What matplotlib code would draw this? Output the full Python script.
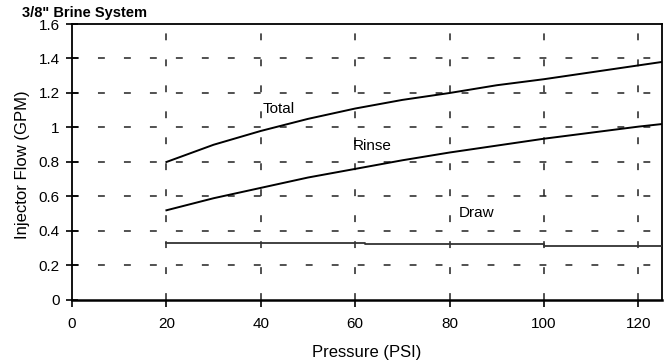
import matplotlib
matplotlib.use("Agg")
import matplotlib.pyplot as plt

plt.rcParams['font.family'] = ['Liberation Sans', 'DejaVu Sans']

# values
pressure = [20, 30, 40, 50, 60, 70, 80, 90, 100, 110, 120, 125]
total = [0.80, 0.90, 0.98, 1.05, 1.11, 1.16, 1.20, 1.245, 1.28, 1.32, 1.36, 1.38]
rinse = [0.52, 0.59, 0.65, 0.71, 0.76, 0.81, 0.855, 0.895, 0.935, 0.97, 1.005, 1.02]
draw_p = [20, 62, 100, 125]
draw = [0.33, 0.322, 0.315, 0.315]

x_ticks = [0, 20, 40, 60, 80, 100, 120]
y_ticks = [0, 0.2, 0.4, 0.6, 0.8, 1, 1.2, 1.4, 1.6]
y_labels = ['0', '0.2', '0.4', '0.6', '0.8', '1', '1.2', '1.4', '1.6']

fig = plt.figure(figsize=(6.7, 3.62), dpi=100)
ax = fig.add_axes([0.1075, 0.1713, 0.8805, 0.7624])

grid_style = dict(color='#222222', lw=1.1, ls=(0, (4.5, 12.5)), zorder=1)
for yv in y_ticks[1:-1]:
    ax.axhline(yv, **grid_style)
for xv in x_ticks[1:]:
    ax.axvline(xv, **grid_style)

ax.plot(pressure, total, color='black', lw=1.4, zorder=3)
ax.plot(pressure, rinse, color='black', lw=1.4, zorder=3)
ax.plot(draw_p, draw, color='#333333', lw=1.3, drawstyle='steps-post', zorder=3)

ax.text(40.3, 1.105, 'Total', fontsize=11, va='center', ha='left')
ax.text(59.5, 0.895, 'Rinse', fontsize=11, va='center', ha='left')
ax.text(82, 0.505, 'Draw', fontsize=11, va='center', ha='left')

ax.set_xlim(0, 125)
ax.set_ylim(0, 1.6)
ax.set_xticks(x_ticks)
ax.set_yticks(y_ticks)
ax.set_yticklabels(y_labels)
ax.tick_params(axis='y', direction='inout', length=8, width=1.2, labelsize=11, pad=5)
ax.tick_params(axis='x', direction='out', length=5, width=1.2, labelsize=11, pad=7)
for side in ['left', 'right', 'top']:
    ax.spines[side].set_linewidth(1.3)
ax.spines['bottom'].set_linewidth(1.8)

ax.set_xlabel('Pressure (PSI)', fontsize=12)
ax.xaxis.set_label_coords(0.5, -0.163)
ax.set_ylabel('Injector Flow (GPM)', fontsize=12)
ax.yaxis.set_label_coords(-0.072, 0.49)

fig.text(0.033, 0.964, '3/8" Brine System', fontsize=10.5, fontweight='bold',
         va='center', ha='left')

fig.savefig('out.png', dpi=100)
